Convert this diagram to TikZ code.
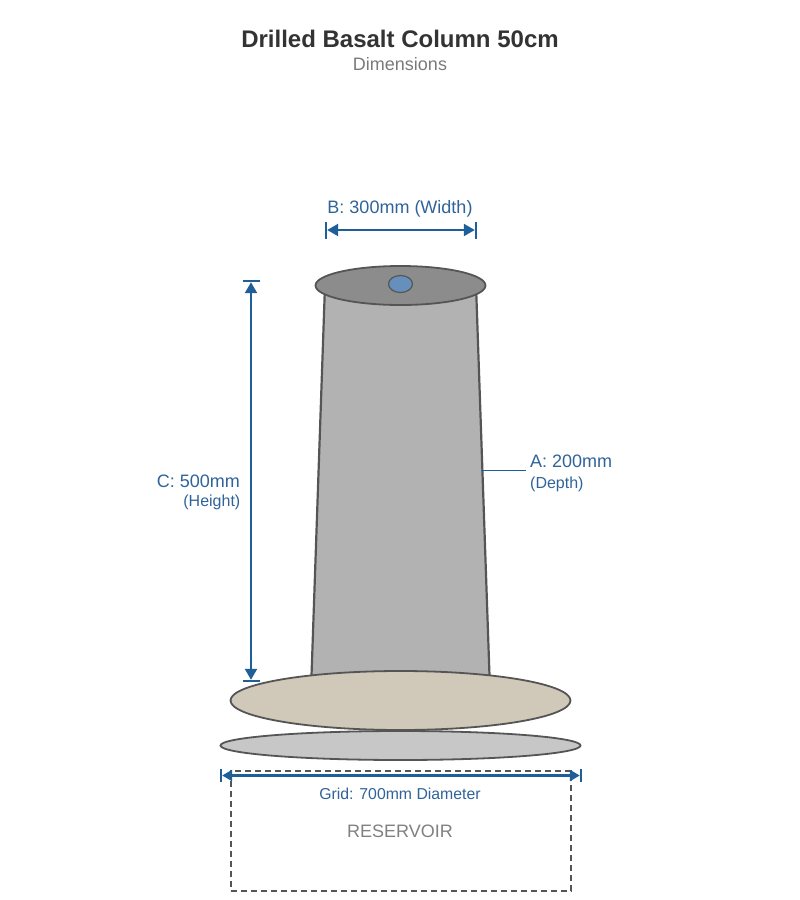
\documentclass[tikz,border=0pt]{standalone}
\usepackage{fontspec}
\setmainfont{Liberation Sans}
\usetikzlibrary{arrows.meta}
\usetikzlibrary{positioning}
\usetikzlibrary{shapes.geometric}
\definecolor{dimblue}{HTML}{1F5F99}
\definecolor{labelblue}{HTML}{2F6399}
\definecolor{edgegray}{HTML}{555555}
\definecolor{holeblue}{HTML}{6690BB}
\definecolor{basetan}{HTML}{D0C8B8}
\tikzset{
disc/.style = {ellipse, draw=edgegray, line width=1.8pt, inner sep=0pt, outer sep=0pt},
dimline/.style = {draw=dimblue, line width=2.2pt,
                  arrows={Bar[width=17pt,line width=2pt].Triangle[length=11pt,width=12pt]-Triangle[length=11pt,width=12pt].Bar[width=17pt,line width=2pt]}},
griddim/.style = {draw=dimblue, line width=2.2pt,
                  arrows={Bar[width=13pt,line width=2pt].Triangle[length=10pt,width=11pt]-Triangle[length=10pt,width=11pt].Bar[width=13pt,line width=2pt]}},
dimtext/.style = {text=labelblue, inner sep=0pt, font=\fontsize{18}{20}\selectfont},
smalltext/.style = {text=labelblue, inner sep=0pt, font=\fontsize{16}{18}\selectfont}
}
\begin{document}
\begin{tikzpicture}[x=1pt,y=-1pt]
    \useasboundingbox (0,0) rectangle (800,900);

    \node[anchor=base, inner sep=0pt, text=black!80, font=\fontsize{24}{28}\selectfont\bfseries] (title) at (400,47) {Drilled Basalt Column 50cm};
    \node[anchor=base, inner sep=0pt, text=black!52, font=\fontsize{18}{22}\selectfont] (subtitle) at (400,70) {Dimensions};

    % column
    \coordinate (coltl) at (325,285);
    \coordinate (coltr) at (476,285);
    \coordinate (colbl) at (311,690);
    \coordinate (colbr) at (490,690);
    \draw[fill=black!30, draw=edgegray, line width=2.2pt] (coltl) -- (coltr) -- (colbr) -- (colbl) -- cycle;

    \node[disc, fill=black!45, minimum width=170pt, minimum height=39pt] (top) at (400.5,285.5) {};
    \node[disc, line width=1.2pt, fill=holeblue, minimum width=24pt, minimum height=17pt] (hole) at (400.5,284) {};
    \node[disc, fill=basetan, minimum width=340pt, minimum height=59pt] (base) at (400.5,700.5) {};
    \node[disc, fill=black!22, minimum width=360pt, minimum height=29pt] (grid) at (400.5,745.5) {};

    \node[draw=edgegray, dash pattern=on 6pt off 4pt, line width=2pt, minimum width=340pt, minimum height=120pt, inner sep=0pt] (reservoir) at (401,831) {};

    % dimensions
    \coordinate (bleft) at (325.2,230);
    \coordinate (bright) at (476.8,230);
    \coordinate (ctop) at (251,280.2);
    \coordinate (cbottom) at (251,681.8);
    \coordinate (gleft) at (220.2,775.5);
    \coordinate (gright) at (581.8,775.5);
    \coordinate (aleft) at (481,470.5);
    \coordinate (aright) at (526,470.5);

    \draw[griddim] (gleft) -- (gright);
    \draw[dimline] (bleft) -- (bright);
    \draw[dimline] (ctop) -- (cbottom);
    \draw[draw=dimblue, line width=1.2pt] (aleft) -- (aright);

    \node[dimtext, anchor=base] (blabel) at (400,213) {B: 300mm (Width)};
    \node[dimtext, anchor=base east] (clabel) at (240,487) {C: 500mm};
    \node[smalltext, anchor=base east] (cnote) at (240.5,506) {(Height)};
    \node[dimtext, anchor=base west] (alabel) at (530,467) {A: 200mm};
    \node[smalltext, anchor=base west] (anote) at (530,488) {(Depth)};
    \node[smalltext, font=\fontsize{15.8}{18}\selectfont, anchor=base] (glabel) at (400,799) {Grid: 700mm Diameter};
    \node[anchor=base, inner sep=0pt, text=black!50, font=\fontsize{18}{22}\selectfont] (rlabel) at (400,837) {RESERVOIR};
\end{tikzpicture}
\end{document}
